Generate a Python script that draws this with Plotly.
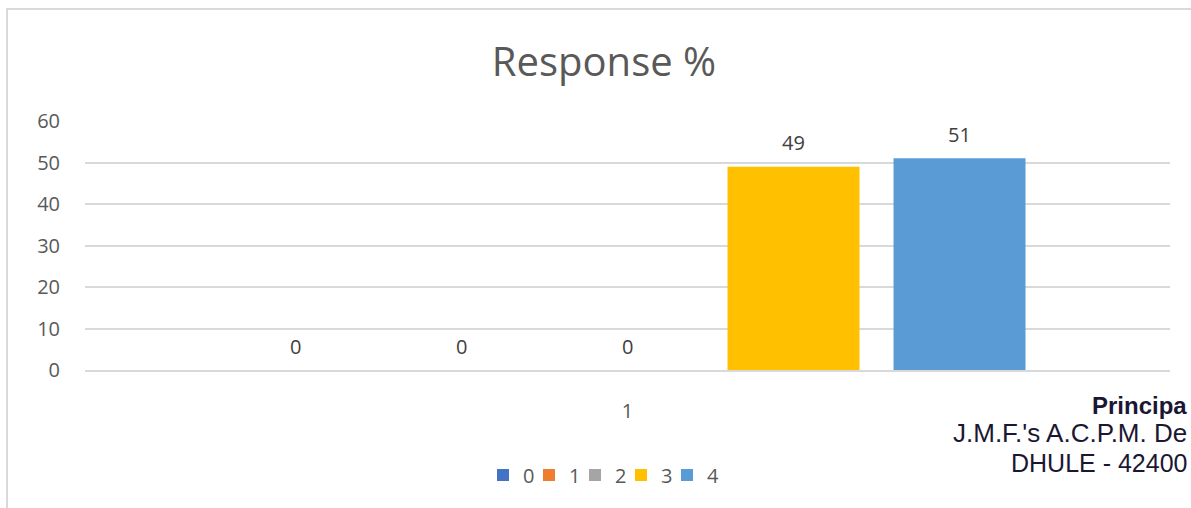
import plotly.graph_objects as go

categories = ["1"]
series_names = ["0", "1", "2", "3", "4"]
series_values = [[0], [0], [0], [49], [51]]
series_colors = ["#4472C4", "#ED7D31", "#A5A5A5", "#FFC000", "#5B9BD5"]
y_ticks = [0, 10, 20, 30, 40, 50, 60]
title_text = "Response %"
stamp_lines = ["Principa", "J.M.F.'s A.C.P.M. De", "DHULE - 42400"]

W, H = 1191, 508
ML, MR, MT, MB = 85, 21, 121, 138
PW, PH = W - ML - MR, H - MT - MB
BARGAP = 0.235
TXT = "#595959"
GRID = "#D9D9D9"

fig = go.Figure()
for name, vals, col in zip(series_names, series_values, series_colors):
    fig.add_trace(go.Bar(name=name, x=categories, y=vals, marker_color=col,
                         marker_line_width=0))
# empty spacer legend entry so the last legend label is not clipped
fig.add_trace(go.Scatter(x=[None], y=[None], mode="markers", name="",
                         marker=dict(color="rgba(0,0,0,0)"), hoverinfo="skip"))

annotations = []
n = len(series_names)
slot = (1 - BARGAP) / n
for i, vals in enumerate(series_values):
    for ci, v in enumerate(vals):
        annotations.append(dict(x=ci + (i - (n - 1) / 2) * slot, y=v, xref="x", yref="y",
                                text=str(v), showarrow=False, yanchor="middle", yshift=24,
                                font=dict(size=20, color="#404040")))

def px_x(p):
    return (p - ML) / PW

def px_y(p):
    return (H - MB - p) / PH

stamp_pos = [(1189, 405, 24, True), (1189, 433, 26, False), (1189, 463, 25, False)]
for txt, (x1, yc, fs, bold) in zip(stamp_lines, stamp_pos):
    annotations.append(dict(x=px_x(x1), y=px_y(yc), xref="paper", yref="paper",
                            xanchor="right", yanchor="middle", showarrow=False,
                            text=("<b>%s</b>" % txt) if bold else txt,
                            font=dict(size=fs, color="#1b1733",
                                      family="Liberation Sans, sans-serif")))

fig.update_layout(
    width=W, height=H,
    margin=dict(l=ML, r=MR, t=MT, b=MB),
    paper_bgcolor="white", plot_bgcolor="white",
    font=dict(family="Open Sans, sans-serif", color=TXT, size=20),
    title=dict(text=title_text, x=604 / W, xanchor="center", y=1 - 62 / H, yanchor="middle",
               font=dict(size=40, color=TXT)),
    barmode="group", bargap=BARGAP, bargroupgap=0.205,
    showlegend=True,
    legend=dict(orientation="h", x=px_x(621), xanchor="center", y=px_y(475), yanchor="middle",
                font=dict(size=20, color=TXT), entrywidth=1, itemwidth=30,
                bgcolor="rgba(0,0,0,0)"),
    xaxis=dict(type="category", showgrid=False, showline=True, linecolor=GRID, linewidth=1.5,
               ticks="", ticklabelstandoff=22, tickfont=dict(size=20, color=TXT)),
    yaxis=dict(range=[0, 60], tickvals=y_ticks, showgrid=True, gridcolor=GRID, gridwidth=1.5,
               zeroline=False, showline=False, ticks="", ticklabelstandoff=24,
               tickfont=dict(size=20, color=TXT)),
    annotations=annotations,
    shapes=[dict(type="rect", xref="paper", yref="paper",
                 x0=px_x(7), x1=px_x(1300), y0=px_y(700), y1=px_y(9),
                 line=dict(color="#D9D9D9", width=2), fillcolor="rgba(0,0,0,0)", layer="below")],
)

fig.write_html("out.html", config={"displayModeBar": False},
               post_script="document.body.style.margin='0';")
